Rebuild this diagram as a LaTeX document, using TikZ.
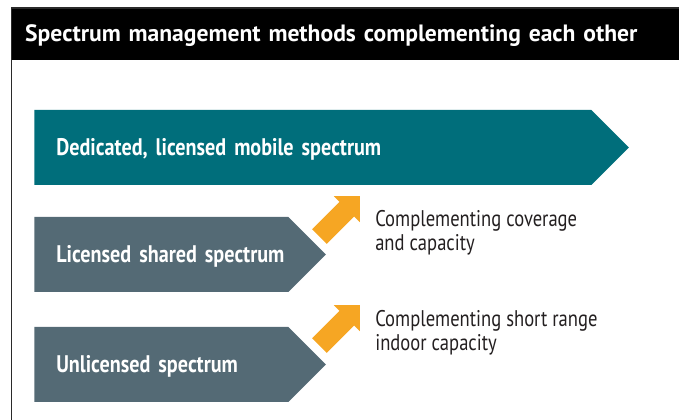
\documentclass[tikz,border=0pt]{standalone}
\usepackage{fontspec}
\setmainfont{PT Sans}
\newfontfamily\narrowfont[FakeStretch=0.84]{PT Sans}
\newfontfamily\notefont[FakeStretch=0.82]{PT Sans}
\usetikzlibrary{shapes.symbols,shapes.arrows}
\definecolor{bandteal}{HTML}{006E7B}
\definecolor{bandgrey}{HTML}{546A75}
\definecolor{uporange}{HTML}{F6A623}
\definecolor{notegrey}{HTML}{231F20}
\definecolor{framegrey}{HTML}{2A2A2A}
\begin{document}
\begin{tikzpicture}[x=0.75pt,y=-0.75pt,
    band/.style={signal,signal to=east,anchor=west,minimum height=56.25pt,
      inner xsep=16.5pt,inner ysep=0pt,align=left,text=white,
      text height=11.3pt,text depth=0pt,
      font=\narrowfont\bfseries\fontsize{18}{20}\selectfont},
    uparrow/.style={single arrow,fill=uporange,rotate=45,
      inner xsep=0pt,inner ysep=7.5pt,
      minimum height=42.75pt,single arrow head extend=6pt},
    note/.style={anchor=base west,align=left,inner sep=0pt,text=notegrey,
      font=\notefont\fontsize{17}{18}\selectfont}]
  \clip (0,0) rectangle (679,420);
  \node[fill=black,anchor=north west,minimum height=39pt,text width=500pt,
    inner xsep=10.1pt,inner ysep=0pt,align=left,text=white,
    text height=11.6pt,text depth=0pt,
    font=\bfseries\fontsize{17.7}{20}\selectfont]
    (title) at (11.5,8) {Spectrum management methods complementing each other};
  \draw[framegrey,line width=1.1pt] (11.5,8) rectangle (720,460);
  \node[band,fill=bandteal,text width=384.75pt] (dedicated) at (34,147.5)
    {\mbox{Dedicated, licensed mobile spectrum}};
  \node[band,fill=bandgrey,text width=157.5pt] (shared) at (34,254.5)
    {\mbox{Licensed shared spectrum}};
  \node[band,fill=bandgrey,text width=157.5pt] (unlicensed) at (34,364.5)
    {\mbox{Unlicensed spectrum}};
  \node[uparrow] (up1) at (336,220) {};
  \node[uparrow] (up2) at (336,329) {};
  \node[note] (coverage) at (375,250.5)
    {Complementing coverage\\and capacity};
  \node[note] (indoor) at (375,350.5)
    {Complementing short range\\indoor capacity};
\end{tikzpicture}
\end{document}
